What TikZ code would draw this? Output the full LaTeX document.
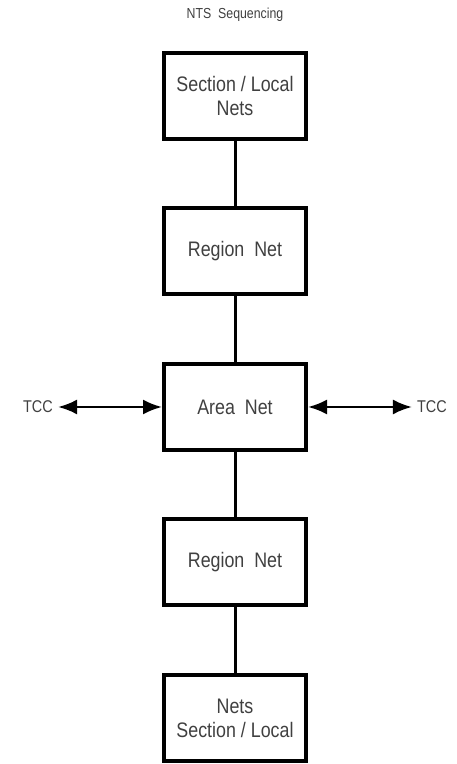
\documentclass[tikz,border=0pt]{standalone}
\usepackage{fontspec}
\setmainfont{Liberation Sans}[FakeStretch=0.85]
\usetikzlibrary{arrows.meta}
\usetikzlibrary{positioning}

\begin{document}
\begin{tikzpicture}[x=1pt, y=1pt, >={Latex[length=19pt,width=15pt]}]
    \tikzset{
        netbox/.style={draw, line width=4pt, minimum width=142pt, minimum height=86pt,
            align=center, text=black!75, font=\fontsize{21}{24}\selectfont},
        tcclabel/.style={text=black!75, inner sep=5pt, font=\fontsize{17}{20}\selectfont},
        link/.style={line width=3pt},
        twoway/.style={<->, line width=2.5pt}
    }
    \useasboundingbox (0,0) rectangle (456,764);

    \node [text=black!75, font=\fontsize{14.5}{17}\selectfont] (title) at (235, 749) {NTS\ \ Sequencing};

    \node [netbox] (secTop) at (235, 668) {Section / Local\\Nets};
    \node [netbox, below=65.5pt of secTop] (regTop) {Region\ \ Net};
    \node [netbox, below=65.5pt of regTop] (area) {Area\ \ Net};
    \node [netbox, below=65.5pt of area] (regBot) {Region\ \ Net};
    \node [netbox, below=65.5pt of regBot] (secBot) {Nets\\Section / Local};

    \draw [link] (secTop) -- (regTop);
    \draw [link] (regTop) -- (area);
    \draw [link] (area) -- (regBot);
    \draw [link] (regBot) -- (secBot);

    % TCC on both sides
    \node [tcclabel] (tccLeft) at (38, 357) {TCC};
    \node [tcclabel] (tccRight) at (432, 357) {TCC};
    \draw [twoway] (tccLeft) -- (area);
    \draw [twoway] (area) -- (tccRight);

\end{tikzpicture}
\end{document}
